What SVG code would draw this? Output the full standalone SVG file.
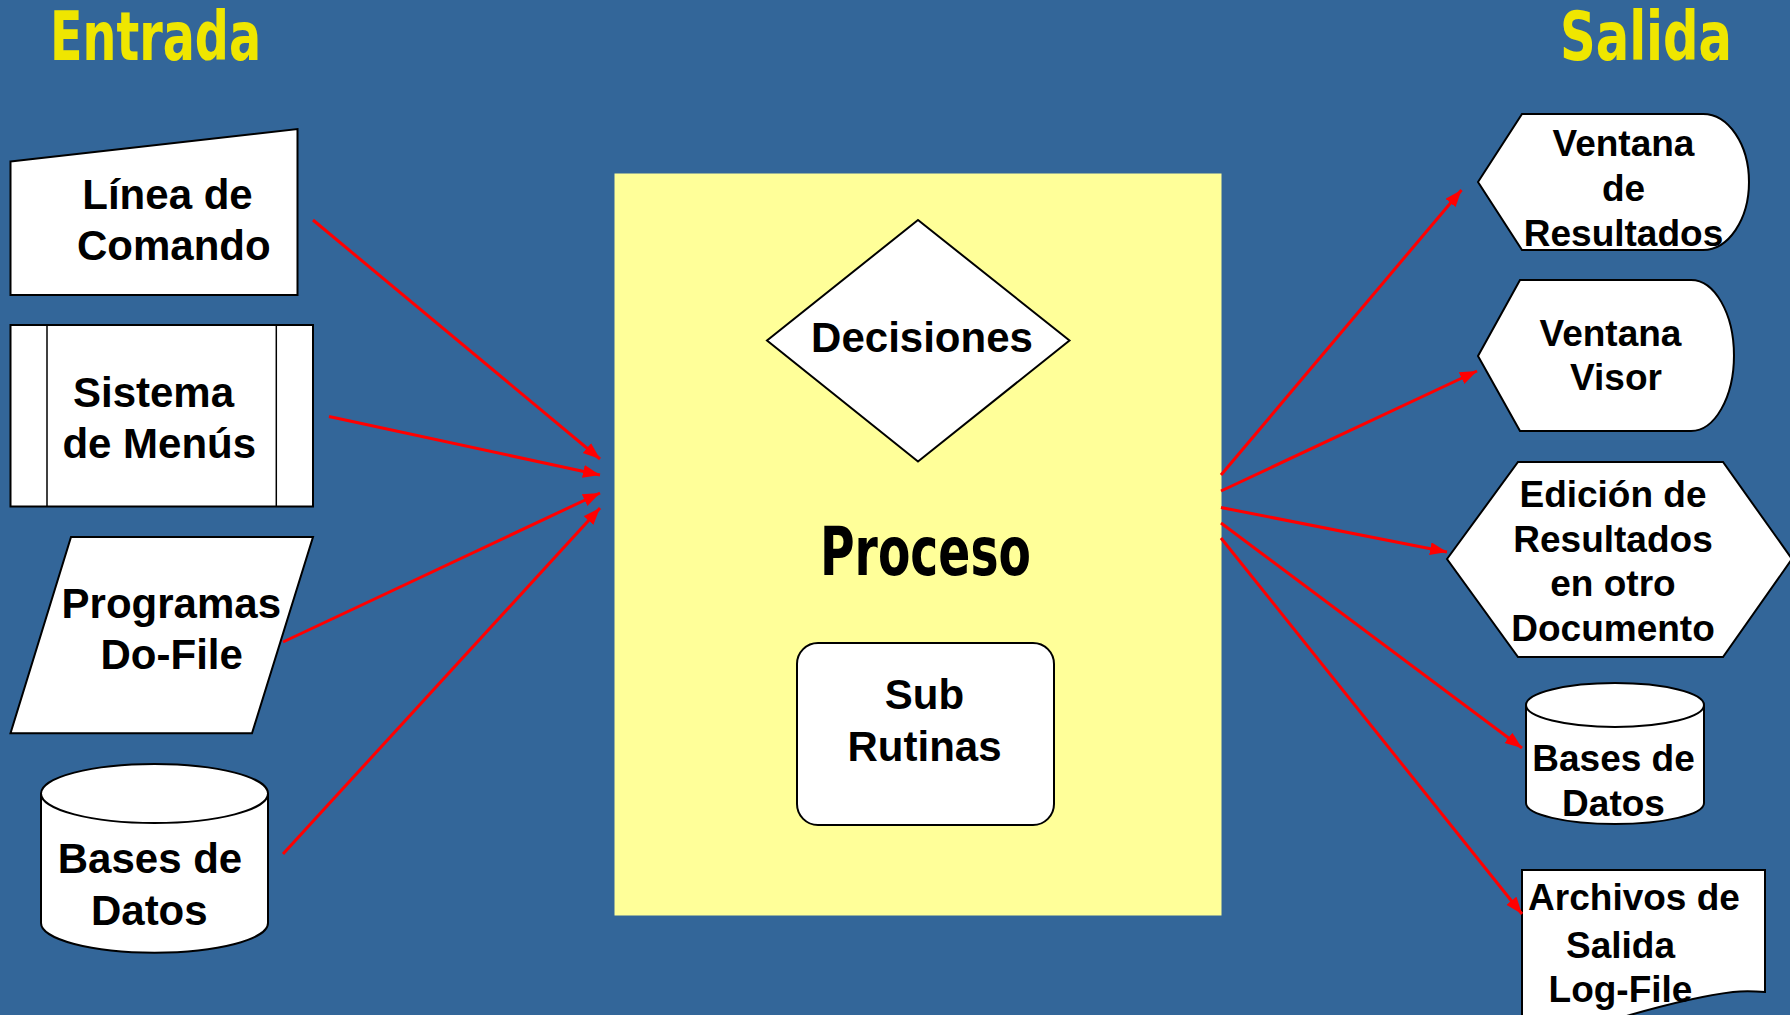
<svg xmlns="http://www.w3.org/2000/svg" width="1790" height="1015" viewBox="0 0 1790 1015">
<style>
.node{fill:#ffffff;stroke:#000000;stroke-width:2;stroke-linejoin:miter}
.t{font-family:"Liberation Sans",Arial,sans-serif;font-weight:bold;font-size:42px;fill:#000000;text-anchor:middle}
.tr{font-family:"Liberation Sans",Arial,sans-serif;font-weight:bold;font-size:37px;fill:#000000;text-anchor:middle}
.title{font-family:"DejaVu Sans Condensed","DejaVu Sans",sans-serif;font-stretch:condensed;font-weight:bold;font-size:68px;fill:#EFE600}
.conn{stroke:#FF0000;stroke-width:3;fill:none;marker-end:url(#ah)}
</style>
<defs>
<marker id="ah" markerUnits="userSpaceOnUse" markerWidth="18" markerHeight="14" refX="17" refY="6.5" orient="auto">
<path d="M0,0 L17,6.5 L0,13 z" fill="#FF0000"/>
</marker>
</defs>
<rect x="0" y="0" width="1790" height="1015" fill="#336699"/>
<text class="title" x="50" y="60" textLength="211" lengthAdjust="spacingAndGlyphs">Entrada</text>
<text class="title" x="1560" y="60" textLength="172" lengthAdjust="spacingAndGlyphs">Salida</text>

<g id="proceso">
<rect x="614.5" y="173.5" width="607" height="742" fill="#FFFF99"/>
<text x="820" y="575" font-family="'DejaVu Sans Condensed','DejaVu Sans',sans-serif" font-stretch="condensed" font-weight="bold" font-size="67" fill="#000000" textLength="211" lengthAdjust="spacingAndGlyphs">Proceso</text>
</g>
<g id="decisiones">
<polygon class="node" stroke-width="1.6" points="918,220 1069.5,340.5 918,461.5 767,340.5"/>
<text class="t" x="922" y="352">Decisiones</text>
</g>
<g id="subrutinas">
<rect class="node" x="797" y="643" width="257" height="182" rx="21" ry="21"/>
<text class="t" x="924.5" y="709">Sub</text>
<text class="t" x="924.5" y="761">Rutinas</text>
</g>

<g id="linea">
<polygon class="node" points="10.5,161.5 297.5,129 297.5,295 10.5,295"/>
<text class="t" x="167.5" y="209">Línea de</text>
<text class="t" x="173.8" y="260">Comando</text>
</g>
<g id="menus">
<rect class="node" x="10.5" y="325" width="302.5" height="181.5"/>
<line x1="47" y1="325" x2="47" y2="506.5" stroke="#000" stroke-width="1.5"/>
<line x1="276.3" y1="325" x2="276.3" y2="506.5" stroke="#000" stroke-width="1.5"/>
<text class="t" x="153.5" y="407">Sistema</text>
<text class="t" x="159.3" y="458">de Menús</text>
</g>
<g id="programas">
<polygon class="node" points="71,537 313,537 252,733.3 10.5,733.3"/>
<text class="t" x="171.3" y="618">Programas</text>
<text class="t" x="171.7" y="669">Do-File</text>
</g>
<g id="bd_in">
<path class="node" d="M41,793.5 L41,923 A113.5,29.7 0 0 0 268,923 L268,793.5 A113.5,29.5 0 0 0 41,793.5 Z"/>
<path d="M41,793.5 A113.5,29.5 0 0 0 268,793.5" fill="none" stroke="#000" stroke-width="2"/>
<text class="t" x="150" y="873">Bases de</text>
<text class="t" x="149.3" y="925">Datos</text>
</g>

<g id="ventana_res">
<path class="node" d="M1478,182 L1522,114 L1703,114 A46,68 0 0 1 1703,250 L1522,250 Z"/>
<text class="tr" x="1623.5" y="156">Ventana</text>
<text class="tr" x="1623.5" y="201">de</text>
<text class="tr" x="1623.5" y="246">Resultados</text>
</g>
<g id="ventana_visor">
<path class="node" d="M1478,356 L1520,280 L1691,280 A43,75.5 0 0 1 1691,431 L1520,431 Z"/>
<text class="tr" x="1610.5" y="346">Ventana</text>
<text class="tr" x="1616" y="390">Visor</text>
</g>
<g id="edicion">
<polygon class="node" points="1447,559 1518,462 1723,462 1792,559 1723,657 1518,657"/>
<text class="tr" x="1613" y="507">Edición de</text>
<text class="tr" x="1613" y="551.5">Resultados</text>
<text class="tr" x="1613" y="596">en otro</text>
<text class="tr" x="1613" y="640.5">Documento</text>
</g>
<g id="bd_out">
<path class="node" d="M1526,705 L1526,803 A89,21 0 0 0 1704,803 L1704,705 A89,22 0 0 0 1526,705 Z"/>
<path d="M1526,705 A89,22 0 0 0 1704,705" fill="none" stroke="#000" stroke-width="2"/>
<text class="tr" x="1613.5" y="771">Bases de</text>
<text class="tr" x="1613.5" y="815.5">Datos</text>
</g>
<g id="archivos">
<path class="node" d="M1522,870 L1765,870 L1765,992 C1752,991 1742,991 1733,992 C1700,996 1665,1005 1630,1015 C1590,1027 1550,1030 1522,1025 Z"/>
<text class="tr" x="1634" y="910">Archivos de</text>
<text class="tr" x="1620.5" y="957.5">Salida</text>
<text class="tr" x="1620.5" y="1002">Log-File</text>
</g>

<g id="connectors">
<line class="conn" x1="313" y1="220" x2="600" y2="459"/>
<line class="conn" x1="329" y1="416.5" x2="600" y2="475"/>
<line class="conn" x1="283" y1="642" x2="600" y2="493"/>
<line class="conn" x1="283" y1="854" x2="600" y2="508"/>
<line class="conn" x1="1221" y1="475" x2="1461.5" y2="190"/>
<line class="conn" x1="1221" y1="491" x2="1477" y2="371"/>
<line class="conn" x1="1221" y1="507.5" x2="1447" y2="552"/>
<line class="conn" x1="1221" y1="523" x2="1522" y2="748"/>
<line class="conn" x1="1221" y1="538" x2="1522" y2="914"/>
</g>
</svg>
